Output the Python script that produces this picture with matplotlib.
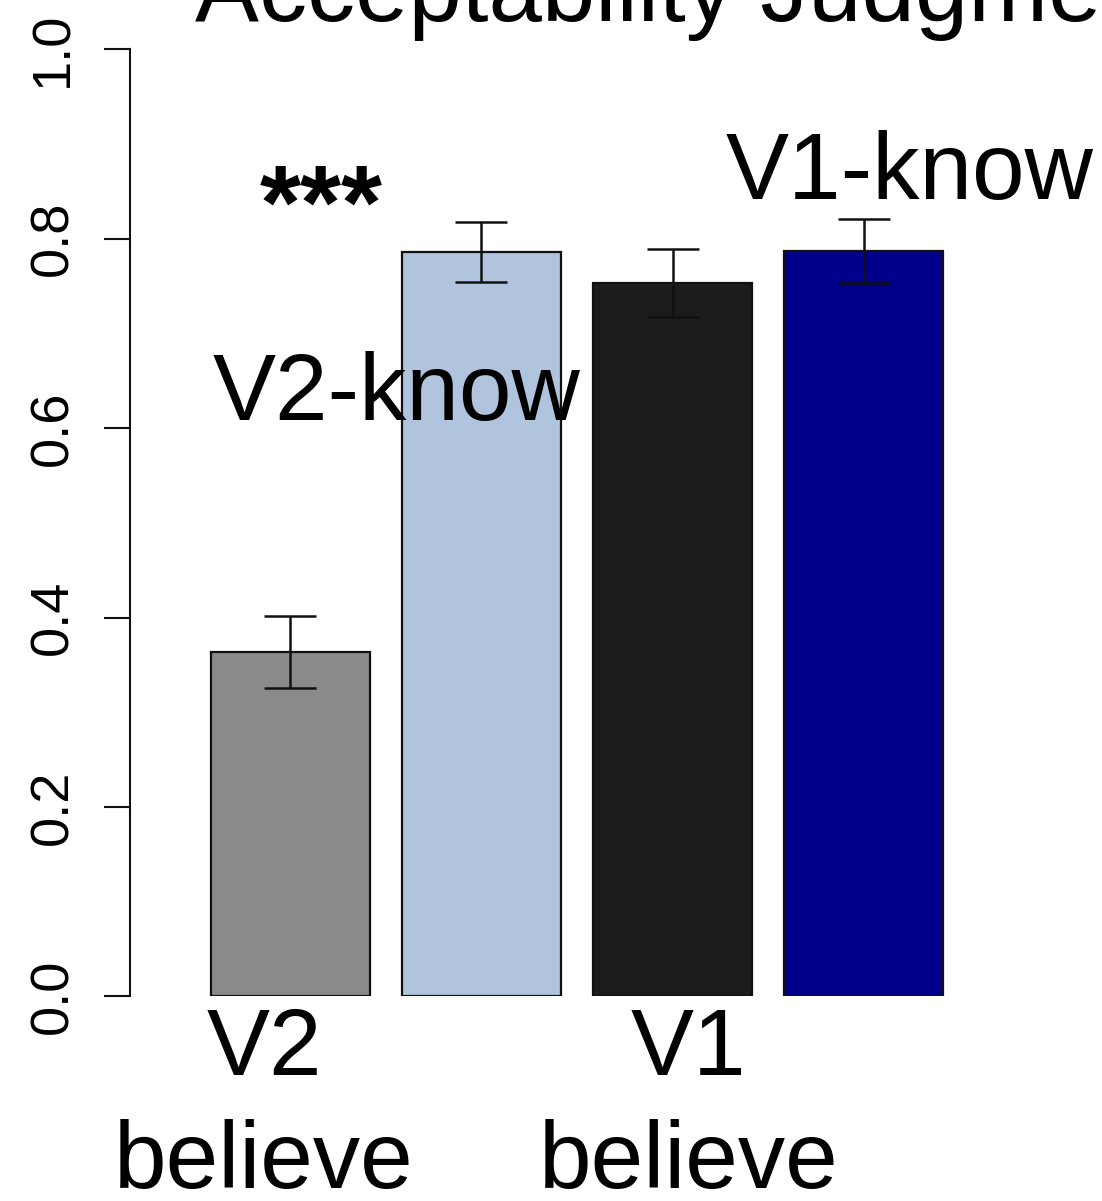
import matplotlib
matplotlib.use("Agg")
import matplotlib.pyplot as plt
from matplotlib import font_manager

# Mean acceptability per condition with standard errors
conditions = ["V2-believe", "V2-know", "V1-believe", "V1-know"]
means = [0.364, 0.786, 0.753, 0.787]
sems = [0.038, 0.032, 0.036, 0.034]
colors = ["#8b8989", "#b0c4de", "#1c1c1c", "#00008b"]
yticks = [0.0, 0.2, 0.4, 0.6, 0.8, 1.0]
ytick_labels = ["0.0", "0.2", "0.4", "0.6", "0.8", "1.0"]

title = "Acceptability Judgments"
significance = "***"

W, H, DPI = 1102, 1201, 100
fig = plt.figure(figsize=(W / DPI, H / DPI), dpi=DPI)

# Axes placed in pixel terms: spine at x=130, y from 49 (1.0) to 996 (0.0)
left_px, right_px, top_px, bottom_px = 130, 1102, 49.3, 996.3
ax = fig.add_axes([left_px / W, (H - bottom_px) / H,
                   (right_px - left_px) / W, (bottom_px - top_px) / H])

# R-style barplot positions: width 1, gap 0.2
positions = [0.7 + 1.2 * i for i in range(len(means))]
unit_px = 159.3
x0_px = 290.2 - 0.7 * unit_px
ax.set_xlim((left_px - x0_px) / unit_px, (right_px - x0_px) / unit_px)
ax.set_ylim(0, 1)

ax.bar(positions, means, width=1.0, color=colors, edgecolor="#111111",
       linewidth=1.6, zorder=2)
ax.errorbar(positions, means, yerr=sems, fmt="none", ecolor="#111111",
            elinewidth=1.8, capsize=18.4, capthick=1.8, zorder=3)

main_font = "Liberation Sans"
fs = 68

ax.text(0.215, 0.6086, "V2-know", fontsize=fs, family=main_font,
        ha="left", va="baseline", zorder=4, clip_on=False)
ax.text(3.43, 0.842, "V1-know", fontsize=fs, family=main_font,
        ha="left", va="baseline", zorder=4, clip_on=False)
ax.text(0.894, 0.8, significance, fontsize=76, family=main_font,
        fontweight="bold", ha="center", va="baseline", zorder=4, clip_on=False)

# Group labels beneath the bars
for xc, verb in [(0.535, "V2"), (3.20, "V1")]:
    ax.text(xc, -0.0831, verb, fontsize=fs, family=main_font,
            ha="center", va="baseline", clip_on=False)
    ax.text(xc, -0.2024, "believe", fontsize=fs, family=main_font,
            ha="center", va="baseline", clip_on=False)

ax.text(0.102, 1.0299, title, fontsize=69, family=main_font,
        ha="left", va="baseline", clip_on=False)

# Tick labels use a narrow face when one is installed
installed = {f.name for f in font_manager.fontManager.ttflist}
if "Liberation Sans Narrow" in installed:
    tick_family, tick_size, tick_pad = "Liberation Sans Narrow", 47, 17.3
else:
    tick_family, tick_size, tick_pad = main_font, 39, 18.5

for s in ["top", "right", "bottom"]:
    ax.spines[s].set_visible(False)
ax.spines["left"].set_linewidth(1.5)
ax.spines["left"].set_color("#111111")
ax.set_xticks([])
ax.set_yticks(yticks)
ax.set_yticklabels(ytick_labels, rotation=90, va="center",
                   family=tick_family, fontsize=tick_size)
ax.tick_params(axis="y", length=18.7, width=1.5, color="#111111", pad=tick_pad)
ax.patch.set_visible(False)

fig.savefig("out.png", dpi=DPI)
